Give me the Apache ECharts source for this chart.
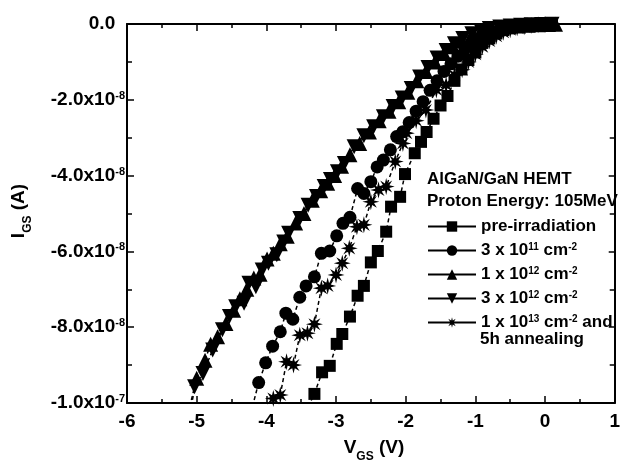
<!DOCTYPE html>
<html>
<head>
<meta charset="utf-8">
<script src="https://cdn.jsdelivr.net/npm/echarts@6.0.0/dist/echarts.min.js"></script>
<style>
  html, body { margin: 0; padding: 0; background: #fff; }
  #chart { width: 623px; height: 460px; }
</style>
</head>
<body>
<div id="chart"></div>
<script>
// Gate current I_GS (in units of 1e-9 A) versus gate voltage V_GS (V)

// pre-irradiation
const vgsPre = [-3.40,-3.31,-3.20,-3.09,-2.99,-2.91,-2.80,-2.69,-2.60,-2.50,-2.40,-2.28,-2.21,-2.08,-2.01,-1.87,-1.78,-1.70,-1.60,-1.50,-1.40,-1.30,-1.20,-1.10,-1.00,-0.90,-0.80,-0.70,-0.60,-0.50,-0.40,-0.30,-0.20,-0.10,0.00,0.10];
const igsPre = [-101,-97.6,-91.9,-90.2,-84.4,-81.8,-77.2,-71.7,-69.1,-62.9,-59.9,-54.8,-48.2,-45.6,-39.6,-34.1,-31.1,-28.5,-25,-21.5,-19,-15,-12,-9.5,-7.5,-5,-3.8,-2.5,-1.6,-1.1,-0.8,-0.6,-0.4,-0.3,-0.2,-0.1];

// 3 x 10^11 cm^-2
const vgs3e11 = [-4.20,-4.11,-4.01,-3.91,-3.80,-3.72,-3.62,-3.52,-3.43,-3.31,-3.21,-3.09,-2.99,-2.90,-2.80,-2.69,-2.60,-2.50,-2.41,-2.32,-2.22,-2.13,-2.04,-1.95,-1.85,-1.75,-1.65,-1.55,-1.45,-1.35,-1.25,-1.15,-1.05,-0.95,-0.85,-0.75,-0.65,-0.55,-0.45,-0.35,-0.25,-0.15,-0.05,0.05];
const igs3e11 = [-101,-94.6,-89.4,-85.0,-81.2,-76.3,-77.9,-72.1,-69.1,-66.7,-60.5,-59.9,-55.9,-52.6,-51.0,-43.4,-44.7,-41.6,-37.7,-35.9,-33.2,-29.7,-28.4,-26,-23,-20.5,-17.5,-15,-12.5,-10.5,-8.5,-6.5,-5,-3.8,-2.8,-2,-1.4,-1.0,-0.7,-0.5,-0.3,-0.2,-0.1,-0.1];

// 1 x 10^12 cm^-2
const vgs1e12 = [-5.08,-5.00,-4.88,-4.80,-4.70,-4.58,-4.47,-4.38,-4.28,-4.18,-4.09,-3.99,-3.90,-3.80,-3.70,-3.58,-3.46,-3.34,-3.22,-3.12,-3.02,-2.92,-2.80,-2.66,-2.52,-2.38,-2.24,-2.10,-1.97,-1.84,-1.71,-1.58,-1.45,-1.32,-1.19,-1.06,-0.93,-0.80,-0.66,-0.52,-0.38,-0.24,-0.10,0.05,0.15];
const igs1e12 = [-101,-93.5,-88.7,-84.5,-82.5,-79,-75.5,-72.5,-70,-67,-66,-62,-60.5,-58,-56,-52.5,-50,-46.5,-44,-42,-40,-37.5,-34.5,-31.5,-28.5,-25.5,-23,-20.5,-18,-15,-12.5,-10,-7.8,-6,-4.5,-3.2,-2.2,-1.5,-1.0,-0.7,-0.5,-0.3,-0.2,-0.1,-0.05];

// 3 x 10^12 cm^-2
const vgs3e12 = [-5.10,-5.03,-4.91,-4.77,-4.63,-4.53,-4.44,-4.32,-4.25,-4.15,-4.06,-3.97,-3.85,-3.75,-3.68,-3.52,-3.40,-3.28,-3.17,-3.08,-2.98,-2.88,-2.74,-2.60,-2.46,-2.32,-2.18,-2.05,-1.92,-1.80,-1.68,-1.55,-1.42,-1.30,-1.18,-1.05,-0.92,-0.80,-0.65,-0.50,-0.35,-0.20,-0.05,0.10];
const igs3e12 = [-101,-95.7,-92.2,-86.0,-80.7,-77.2,-74.6,-73.7,-68.4,-69.3,-64.9,-63.1,-60.9,-57.5,-55.2,-51.3,-47.8,-45.5,-42.9,-41,-39.0,-36.8,-32.4,-29.5,-27.1,-24.5,-21.8,-19.5,-17,-14,-11.5,-9,-7,-5.2,-3.8,-2.6,-1.8,-1.2,-0.8,-0.5,-0.3,-0.2,-0.1,-0.05];

// 1 x 10^13 cm^-2 and 5h annealing
const vgs1e13 = [-3.90,-3.80,-3.71,-3.61,-3.52,-3.41,-3.31,-3.21,-3.12,-3.00,-2.91,-2.81,-2.70,-2.60,-2.50,-2.39,-2.28,-2.15,-2.04,-1.99,-1.85,-1.71,-1.56,-1.42,-1.30,-1.19,-1.10,-1.00,-0.90,-0.80,-0.70,-0.60,-0.50,-0.40,-0.30,-0.20,-0.10,0.00];
const igs1e13 = [-98.8,-97.9,-89.1,-90.0,-82.1,-81.6,-79.2,-69.7,-69.1,-66.2,-63.1,-59.2,-53.5,-53.0,-46.9,-43.8,-42.9,-36.3,-31.5,-28.8,-25.5,-22.7,-17.4,-16.1,-13.5,-12.1,-10,-8,-6,-4.5,-3.2,-2.2,-1.5,-1.0,-0.7,-0.4,-0.2,-0.1];

// Axis ticks
const xTickValues = [-6, -5, -4, -3, -2, -1, 0, 1];
const xTickLabels = ['-6', '-5', '-4', '-3', '-2', '-1', '0', '1'];
const yTickValues = [0, -20, -40, -60, -80, -100];
const yTickMantissa = ['0.0', '-2.0', '-4.0', '-6.0', '-8.0', '-1.0'];
const yTickExponent = ['', '-8', '-8', '-8', '-8', '-7'];

// Legend
const seriesNames = ['pre', 'f3e11', 'f1e12', 'f3e12', 'f1e13'];
const legendLabels = [
  'pre-irradiation',
  '3 x 10{sup|11} cm{sup|-2}',
  '1 x 10{sup|12} cm{sup|-2}',
  '3 x 10{sup|12} cm{sup|-2}',
  '1 x 10{sup|13} cm{sup|-2} and'
];

const FONT = '"Liberation Sans", Arial, Helvetica, sans-serif';

function pairs(xs, ys) { return xs.map((x, i) => [x, ys[i]]); }

// eight-spoke asterisk drawn as a filled star with thick spokes
function asteriskPath() {
  let d = '';
  for (let k = 0; k < 16; k++) {
    const a = k * Math.PI / 8 - Math.PI / 2;
    const r = (k % 2 === 0) ? 10 : 4;
    const px = (10 + r * Math.cos(a)).toFixed(2);
    const py = (10 + r * Math.sin(a)).toFixed(2);
    d += (k === 0 ? 'M' : 'L') + px + ',' + py;
  }
  return 'path://' + d + 'Z';
}

const dashed = { color: '#000', width: 1.5, type: [4, 3] };

function makeSeries(name, xs, ys, symbol, size) {
  return {
    name: name,
    type: 'line',
    data: pairs(xs, ys),
    symbol: symbol,
    symbolSize: size,
    showAllSymbol: true,
    clip: true,
    itemStyle: { color: '#000', borderWidth: 0 },
    lineStyle: dashed,
    emphasis: { disabled: true },
    animation: false
  };
}

const chart = echarts.init(document.getElementById('chart'), null, { renderer: 'canvas' });

const tickStyle = { color: '#000', width: 1.5 };
const axisLineStyle = { color: '#000', width: 2 };

chart.setOption({
  backgroundColor: '#fff',
  animation: false,
  grid: { left: 127, right: 2, top: 24, bottom: 57, containLabel: false },
  xAxis: [
    {
      type: 'value', min: -6, max: 1, interval: 1, position: 'bottom',
      axisLine: { show: true, onZero: false, lineStyle: axisLineStyle },
      axisTick: { show: true, inside: true, length: 7, lineStyle: tickStyle },
      minorTick: { show: true, splitNumber: 2, length: 4, lineStyle: tickStyle },
      splitLine: { show: false },
      axisLabel: {
        margin: 9, color: '#000', fontSize: 19, fontWeight: 'bold', fontFamily: FONT,
        formatter: v => { const i = xTickValues.indexOf(v); return i >= 0 ? xTickLabels[i] : ''; }
      }
    },
    {
      type: 'value', min: -6, max: 1, interval: 1, position: 'top',
      axisLine: { show: true, onZero: false, lineStyle: axisLineStyle },
      axisTick: { show: true, inside: true, length: 7, lineStyle: tickStyle },
      minorTick: { show: true, splitNumber: 2, length: 4, lineStyle: tickStyle },
      splitLine: { show: false },
      axisLabel: { show: false }
    }
  ],
  yAxis: [
    {
      type: 'value', min: -100, max: 0, interval: 20, position: 'left',
      axisLine: { show: true, onZero: false, lineStyle: axisLineStyle },
      axisTick: { show: true, inside: true, length: 7, lineStyle: tickStyle },
      minorTick: { show: true, splitNumber: 2, length: 5, lineStyle: tickStyle },
      splitLine: { show: false },
      axisLabel: {
        margin: 2, color: '#000', fontSize: 19, fontWeight: 'bold', fontFamily: FONT,
        formatter: v => {
          const i = yTickValues.indexOf(v);
          if (i < 0) return '';
          return yTickExponent[i]
            ? yTickMantissa[i] + 'x10{sup|' + yTickExponent[i] + '}'
            : yTickMantissa[i] + '{ghost|-8}';
        },
        rich: {
          sup: { fontSize: 11, fontWeight: 'bold', fontFamily: FONT, color: '#000', verticalAlign: 'top', lineHeight: 11 },
          ghost: { fontSize: 11, fontWeight: 'bold', fontFamily: FONT, color: 'rgba(0,0,0,0)', verticalAlign: 'top', lineHeight: 11 }
        }
      }
    },
    {
      type: 'value', min: -100, max: 0, interval: 20, position: 'right',
      axisLine: { show: true, onZero: false, lineStyle: axisLineStyle },
      axisTick: { show: true, inside: true, length: 6, lineStyle: tickStyle },
      minorTick: { show: true, splitNumber: 2, length: 5, lineStyle: tickStyle },
      splitLine: { show: false },
      axisLabel: { show: false }
    }
  ],
  legend: {
    orient: 'vertical',
    left: 427,
    top: 218,
    padding: 0,
    itemWidth: 48,
    itemHeight: 13,
    itemGap: 7,
    itemTextGap: 3,
    selectedMode: false,
    data: seriesNames,
    lineStyle: { type: 'solid', width: 2, color: '#000' },
    formatter: name => legendLabels[seriesNames.indexOf(name)],
    textStyle: {
      color: '#000', fontSize: 17, fontWeight: 'bold', fontFamily: FONT, lineHeight: 16,
      rich: {
        sup: { fontSize: 10, fontWeight: 'bold', fontFamily: FONT, color: '#000', verticalAlign: 'top', lineHeight: 10 }
      }
    }
  },
  graphic: [
    {
      type: 'text', left: 427, top: 171,
      style: { text: 'AlGaN/GaN HEMT', fill: '#000', font: 'bold 17px ' + FONT }
    },
    {
      type: 'text', left: 427, top: 193,
      style: { text: 'Proton Energy: 105MeV', fill: '#000', font: 'bold 17px ' + FONT }
    },
    {
      type: 'text', left: 480, top: 331,
      style: { text: '5h annealing', fill: '#000', font: 'bold 17px ' + FONT }
    },
    {
      type: 'text', x: 374, y: 448,
      style: {
        text: 'V{sub|GS} (V)', fill: '#000', font: 'bold 19px ' + FONT,
        align: 'center', verticalAlign: 'middle',
        rich: {
          sub: { fontSize: 12, fontWeight: 'bold', fontFamily: FONT, fill: '#000', verticalAlign: 'bottom', lineHeight: 12, padding: [0, 0, -5, 0] }
        }
      }
    },
    {
      type: 'text', x: 19, y: 211, rotation: Math.PI / 2,
      style: {
        text: 'I{sub|GS} (A)', fill: '#000', font: 'bold 19px ' + FONT,
        align: 'center', verticalAlign: 'middle',
        rich: {
          sub: { fontSize: 12, fontWeight: 'bold', fontFamily: FONT, fill: '#000', verticalAlign: 'bottom', lineHeight: 12, padding: [0, 0, -5, 0] }
        }
      }
    }
  ],
  series: [
    makeSeries('pre', vgsPre, igsPre, 'rect', 12),
    makeSeries('f3e11', vgs3e11, igs3e11, 'circle', 13),
    makeSeries('f1e12', vgs1e12, igs1e12, 'triangle', 15),
    makeSeries('f3e12', vgs3e12, igs3e12, 'path://M0,0L10,0L5,9Z', 15),
    makeSeries('f1e13', vgs1e13, igs1e13, asteriskPath(), 17)
  ]
});
</script>
</body>
</html>
